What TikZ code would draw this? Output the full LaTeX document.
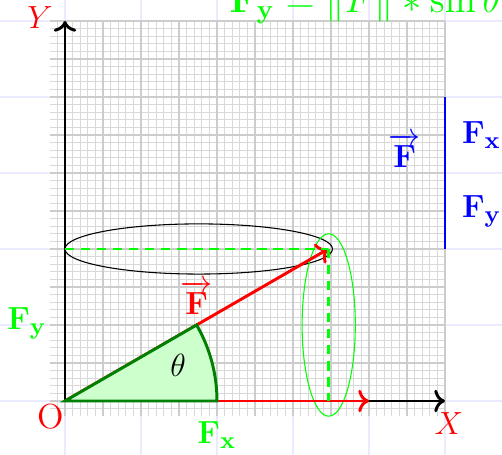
\documentclass[tikz,border=0pt]{standalone}
\usepackage{amsmath,amssymb}
\usetikzlibrary{arrows.meta, positioning, calc}

\begin{document}
\begin{tikzpicture}[
  axis/.style={->, line width=1.1pt, black},
  vec/.style={->, line width=1.1pt, red},
  proj/.style={dash pattern=on 3.5pt off 2.5pt, line width=1.1pt, green},
  lbl/.style={font=\fontsize{13}{15}\selectfont},
]
  \useasboundingbox (-0.855,-0.71) rectangle (5.75,5.276);
  % grids
  \draw[blue!8] (-1,-1) grid (6,6);
  \draw[step=0.1, gray!30, line width=0.45pt] (-0.2,-0.2) grid (5,5);
  \draw[step=0.5, gray!40, line width=0.9pt] (-0.2,-0.2) grid (5,5);

  \coordinate (O) at (0,0);
  \coordinate (xend) at (5,0);
  \coordinate (yend) at (0,5);
  \coordinate (tip) at (30:4);
  \coordinate (fxend) at (4,0);
  \coordinate (arcstart) at (2,0);
  \coordinate (py) at (0,2);
  \coordinate (px) at (tip |- O);
  \coordinate (btop) at (5,4);
  \coordinate (bbot) at (5,2);

  % ellipses
  \draw (1.76,2) ellipse (1.76 and 0.33);
  \draw[green] (3.47,1) ellipse (0.35 and 1.2);

  \draw[axis] (O) -- (xend);
  \draw[axis] (O) -- (yend);
  \draw[vec] (O) -- (tip) node[midway, above, lbl] (flabel) {$\overrightarrow{\mathbf{F}}$};
  \draw[vec] (O) -- (fxend);
  \filldraw[fill=green!20, draw=green!50!black, line width=1.1pt] (O) -- (arcstart) arc (0:30:2) -- cycle;
  \draw[proj] (py) -- (tip);
  \draw[proj] (tip) -- (px);

  \node[lbl] (theta) at (1.49,0.47) {$\theta$};
  \node[lbl, red] (olabel) at (-0.19,-0.2) {O};
  \node[lbl, red] (xlabel) at (5.05,-0.3) {$X$};
  \node[lbl, red] (ylabel) at (-0.33,5.04) {$Y$};
  \node[lbl, green] (fxlabel) at (2,-0.45) {$\mathbf{F_x}$};
  \node[lbl, green] (fylabel) at (-0.5,1.02) {$\mathbf{F_y}$};
  \node[green, font=\Large, anchor=base west, inner sep=0pt] (formula) at (2.16,5.11)
    {$\mathbf{F_y} = \| F \| * \sin\theta$};

  % column vector
  \draw[blue, line width=0.9pt] (btop) -- (bbot);
  \node[lbl, blue] (fvec) at (4.47,3.3) {$\overrightarrow{\mathbf{F}}$};
  \node[lbl, blue, anchor=west] (fxcomp) at (5.1,3.5) {$\mathbf{F_x}$};
  \node[lbl, blue, anchor=west] (fycomp) at (5.1,2.5) {$\mathbf{F_y}$};
\end{tikzpicture}
\end{document}
